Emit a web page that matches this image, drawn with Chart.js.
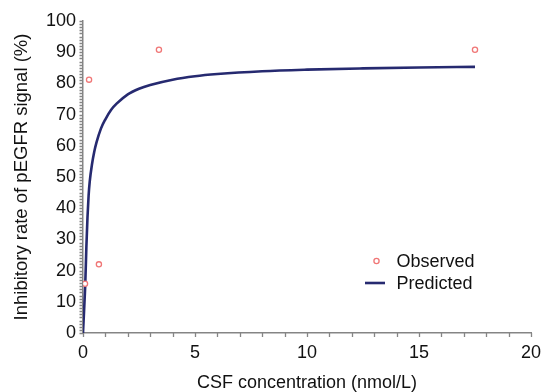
<!DOCTYPE html>
<html>
<head>
<meta charset="utf-8">
<script src="https://cdn.jsdelivr.net/npm/chart.js@4.4.1/dist/chart.umd.min.js"></script>
<style>
html,body{margin:0;padding:0;background:#fff;}
#wrap{width:543px;height:392px;position:relative;}
</style>
</head>
<body>
<div id="wrap"><canvas id="c"></canvas></div>
<script>
// Observed points
const observedX = [0.09, 0.27, 0.71, 3.39, 17.5];
const observedY = [15.8, 81.2, 22, 90.8, 90.8];
// Predicted curve
const predictedX = [0, 0.05, 0.1, 0.15, 0.2, 0.25, 0.3, 0.4, 0.5, 0.6, 0.8, 1.0, 1.25, 1.5, 2.0, 2.5, 3.0, 4.0, 5.0, 6.0, 8.0, 10, 12.5, 15, 17.5];
const predictedY = [0, 7.5, 15.5, 27.5, 37, 44, 48.5, 54, 58, 61, 65.5, 68.5, 71.5, 73.5, 76.5, 78.3, 79.5, 81.2, 82.3, 83, 83.9, 84.4, 84.8, 85.1, 85.3];
// Tick labels
const xTickLabels = [0, 5, 10, 15, 20];
const yTickLabels = [0, 10, 20, 30, 40, 50, 60, 70, 80, 90, 100];
const seriesNames = ["Observed", "Predicted"];

const FONT = "'Liberation Sans', Arial, sans-serif";
const AXIS = '#858585';

// small outward tick marks at every unit step of each scale
const tickMarks = {
  id: 'tickMarks',
  afterDatasetsDraw(chart) {
    const ctx = chart.ctx;
    const xs = chart.scales.x, ys = chart.scales.y;
    const area = chart.chartArea;
    ctx.save();
    ctx.strokeStyle = AXIS;
    ctx.lineWidth = 1.3;
    ctx.beginPath();
    for (let v = xs.min; v <= xs.max + 1e-9; v += 1) {
      const px = Math.round(xs.getPixelForValue(v)) + 0.5;
      ctx.moveTo(px, area.bottom);
      ctx.lineTo(px, area.bottom + 4);
    }
    for (let v = ys.min; v <= ys.max + 1e-9; v += 1) {
      const py = Math.round(ys.getPixelForValue(v)) + 0.5;
      ctx.moveTo(area.left, py);
      ctx.lineTo(area.left - 3.5, py);
    }
    ctx.stroke();
    ctx.restore();
  }
};

const legendPlugin = {
  id: 'insideLegend',
  afterDraw(chart) {
    const ctx = chart.ctx;
    const ds = chart.data.datasets;
    ctx.save();
    ctx.font = '18px ' + FONT;
    ctx.textBaseline = 'middle';
    const o = ds[0];
    ctx.beginPath();
    ctx.arc(376.5, 261, o.pointRadius, 0, Math.PI * 2);
    ctx.fillStyle = '#fff';
    ctx.fill();
    ctx.lineWidth = o.pointBorderWidth;
    ctx.strokeStyle = o.pointBorderColor;
    ctx.stroke();
    ctx.fillStyle = '#111';
    ctx.fillText(o.label, 396.5, 262);
    const p = ds[1];
    ctx.beginPath();
    ctx.moveTo(365, 283);
    ctx.lineTo(385, 283);
    ctx.lineWidth = p.borderWidth;
    ctx.strokeStyle = p.borderColor;
    ctx.stroke();
    ctx.fillText(p.label, 396.5, 284);
    ctx.restore();
  }
};

new Chart(document.getElementById('c'), {
  type: 'scatter',
  data: {
    datasets: [
      {
        label: seriesNames[0],
        data: observedX.map((x, i) => ({x: x, y: observedY[i]})),
        showLine: false,
        pointRadius: 2.6,
        pointBorderWidth: 1.3,
        pointBorderColor: '#f07676',
        pointBackgroundColor: '#ffffff',
        order: 0
      },
      {
        label: seriesNames[1],
        data: predictedX.map((x, i) => ({x: x, y: predictedY[i]})),
        showLine: true,
        borderColor: '#262a70',
        borderWidth: 2.6,
        pointRadius: 0,
        cubicInterpolationMode: 'monotone',
        fill: false,
        order: 1
      }
    ]
  },
  options: {
    responsive: true,
    maintainAspectRatio: false,
    animation: false,
    layout: { padding: { left: 0, right: 12, top: 21, bottom: 0 } },
    plugins: { legend: { display: false }, tooltip: { enabled: false } },
    scales: {
      x: {
        type: 'linear',
        min: 0, max: 20,
        afterFit(s) { s.height = 59; s.paddingLeft = 0; s.paddingRight = 0; },
        border: { display: true, color: AXIS, width: 1.5 },
        grid: { display: false, drawTicks: true, tickLength: 4 },
        ticks: {
          stepSize: 5, autoSkip: false, maxRotation: 0, padding: 5,
          color: '#111', font: { family: FONT, size: 18 },
          callback: v => xTickLabels.includes(v) ? String(v) : ''
        },
        title: { display: true, text: 'CSF concentration (nmol/L)', color: '#111',
                 font: { family: FONT, size: 18 }, padding: { top: 0, bottom: -2 } }
      },
      y: {
        type: 'linear',
        min: 0, max: 100,
        afterFit(s) { s.width = 83; s.paddingTop = 0; s.paddingBottom = 0; },
        border: { display: true, color: AXIS, width: 1.5 },
        grid: { display: false, drawTicks: true, tickLength: 3 },
        ticks: {
          stepSize: 10, autoSkip: false, padding: 4,
          color: '#111', font: { family: FONT, size: 18 },
          callback: v => yTickLabels.includes(v) ? String(v) : ''
        },
        title: { display: true, text: 'Inhibitory rate of pEGFR signal (%)', color: '#111',
                 font: { family: FONT, size: 18.5 }, padding: { top: 11, bottom: 0 } }
      }
    }
  },
  plugins: [tickMarks, legendPlugin]
});
</script>
</body>
</html>
